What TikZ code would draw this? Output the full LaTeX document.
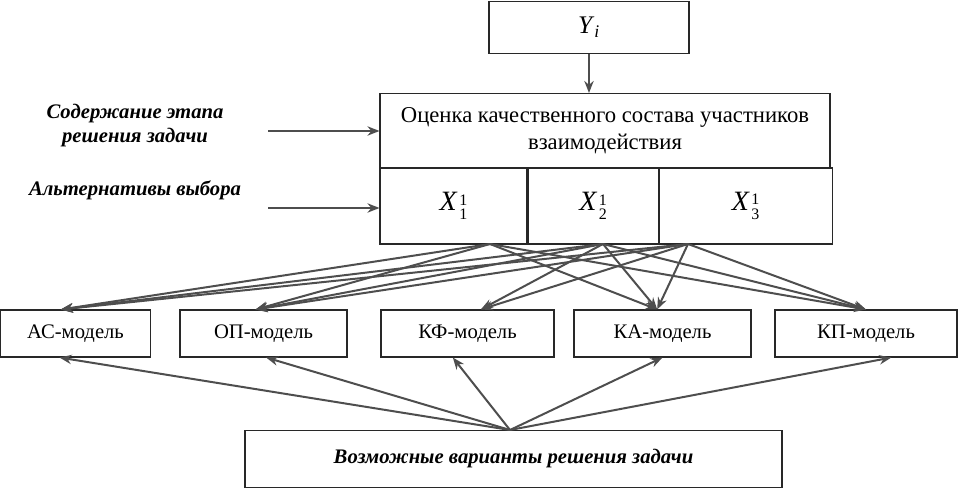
\documentclass[tikz,border=0pt]{standalone}
\usepackage{fontspec}
\setmainfont{Liberation Serif}
\usetikzlibrary{arrows.meta, positioning, calc}
\definecolor{ArrLine}{RGB}{78,78,78}
\definecolor{BoxLine}{RGB}{40,40,40}
\tikzset{
  % plain rectangular box, width passed as argument
  box/.style={
    rectangle, draw=BoxLine, fill=white, line width=0.8pt,
    align=center, font=\fontsize{17}{20}\selectfont,
    inner sep=0pt, minimum width=#1
  },
  box/.default=100pt,
  model/.style={box=#1, minimum height=35.25pt, font=\fontsize{15.5}{18}\selectfont},
  cell/.style={box=#1, minimum height=57pt, font=\fontsize{21}{22}\selectfont},
  side/.style={align=center, font=\fontsize{15.5}{18}\selectfont\bfseries\itshape},
  arr/.style={-{Stealth[length=9pt,width=7pt]}, draw=ArrLine, line width=1.5pt},
  thick arr/.style={arr, line width=2.2pt}
}
\newcommand{\xalt}[1]{\textit{X}\kern1.2pt\raisebox{-0.7ex}{\fontsize{12}{11}\selectfont\shortstack[l]{1\\#1}}}

\begin{document}
\begin{tikzpicture}[x=0.75pt, y=-0.75pt]
  \useasboundingbox (0,0) rectangle (958,488);

  %% -- top: criterion and stage box --
  \node[box=150pt, minimum height=39pt, font=\fontsize{19}{20}\selectfont] (yi) at (589,27.5)
    {\textit{Y}\textsubscript{\textit{i}}};

  \node[box=337.5pt, minimum height=56.25pt] (est) at (605,131)
    {Оценка качественного состава участников\\взаимодействия};

  \node[cell=110.25pt] (xa) at (453.5,206) {\xalt{1}};
  \node[cell=97.5pt, right=0pt of xa] (xb) {\xalt{2}};
  \node[cell=129.75pt, right=0pt of xb] (xc) {\xalt{3}};

  \draw[arr] (yi) -- (yi |- est.north);

  %% -- side labels --
  \node[side] (lblc) at (135,126) {Содержание этапа\\решения задачи};
  \node[side] (lbla) at (135,190) {Альтернативы выбора};
  \coordinate (fc) at (268,131);
  \coordinate (fa) at (268,208);
  \draw[thick arr] (fc) -- (fc -| est.west);
  \draw[thick arr] (fa) -- (fa -| xa.west);

  %% -- models --
  \node[model=112.5pt]  (mas) at (75.5,333.5)  {АС-модель};
  \node[model=125.25pt] (mop) at (263.5,333.5) {ОП-модель};
  \node[model=129.75pt] (mkf) at (467.5,333.5) {КФ-модель};
  \node[model=132.75pt] (mka) at (662.5,333.5) {КА-модель};
  \node[model=136.5pt]  (mkp) at (866,333.5)   {КП-модель};

  %% -- alternatives -> models --
  \coordinate (sa) at (490,244);
  \coordinate (sb) at (603,244);
  \coordinate (sc) at (688,244);
  \foreach \s in {sa,sb,sc} {
    \draw[arr] (\s) -- ([xshift=-11pt]mas.north);
    \draw[arr] (\s) -- ([xshift=-6pt]mop.north);
    \draw[arr] (\s) -- ([xshift=-4pt]mka.north);
    \draw[arr] (\s) -- (mkp.north);
  }
  \draw[arr] (sb) -- ([xshift=10pt]mkf.north);
  \draw[arr] (sc) -- ([xshift=10pt]mkf.north);

  %% -- bottom: possible solutions --
  \node[box=402.75pt, minimum height=42.75pt,
        font=\fontsize{15.5}{18}\selectfont\bfseries\itshape] (var) at (513.5,459)
    {Возможные варианты решения задачи};

  \coordinate (vs) at (510,430);
  \draw[arr] (vs) -- ([xshift=-12pt]mas.south);
  \draw[arr] (vs) -- ([xshift=2pt]mop.south);
  \draw[arr] (vs) -- ([xshift=-11pt]mkf.south);
  \draw[arr] (vs) -- (mka.south);
  \draw[arr] (vs) -- ([xshift=19pt]mkp.south);
\end{tikzpicture}
\end{document}
